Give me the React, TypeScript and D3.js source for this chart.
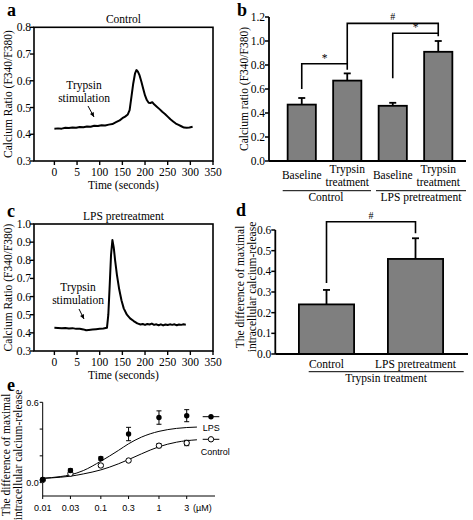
import React from 'react';
import * as d3 from 'd3';

const SERIF = '"Liberation Serif", "Times New Roman", serif';
const SANS = '"Liberation Sans", Arial, sans-serif';

// ---------- Panel a: Control trace ----------
const ctrlTime = [0, 8, 16, 24, 32, 40, 48, 56, 64, 72, 80, 88, 96, 104, 112, 120, 128, 136, 144, 150, 156, 162, 166, 170, 174, 178, 181, 184, 188, 192, 196, 200, 204, 208, 212, 216, 220, 226, 232, 238, 244, 250, 256, 262, 268, 274, 280, 286, 292, 298, 305];
const ctrlRatio = [0.421, 0.422, 0.421, 0.424, 0.423, 0.425, 0.424, 0.427, 0.426, 0.429, 0.428, 0.432, 0.431, 0.434, 0.433, 0.436, 0.438, 0.445, 0.452, 0.46, 0.466, 0.474, 0.49, 0.54, 0.59, 0.628, 0.64, 0.635, 0.62, 0.596, 0.57, 0.545, 0.528, 0.518, 0.517, 0.52, 0.512, 0.503, 0.494, 0.484, 0.476, 0.466, 0.456, 0.448, 0.44, 0.435, 0.43, 0.425, 0.424, 0.425, 0.428];

// ---------- Panel c: LPS pretreatment trace ----------
const lpsTime = [0, 8, 16, 24, 32, 40, 48, 56, 64, 70, 76, 84, 92, 100, 108, 116, 119, 122, 125, 128, 131, 134, 138, 143, 148, 153, 160, 167, 175, 183, 190, 195, 200, 205, 210, 215, 220, 225, 230, 235, 240, 245, 250, 255, 260, 265, 270, 275, 280, 285, 290];
const lpsRatio = [0.428, 0.427, 0.425, 0.427, 0.424, 0.426, 0.422, 0.423, 0.419, 0.414, 0.416, 0.418, 0.42, 0.422, 0.424, 0.428, 0.5, 0.66, 0.83, 0.912, 0.87, 0.8, 0.72, 0.64, 0.58, 0.535, 0.5, 0.48, 0.465, 0.452, 0.446, 0.449, 0.444, 0.449, 0.446, 0.451, 0.444, 0.447, 0.442, 0.447, 0.441, 0.446, 0.443, 0.447, 0.444, 0.447, 0.442, 0.446, 0.444, 0.447, 0.445];

const traceXTicks = [0, 50, 100, 150, 200, 250, 300, 350];
const traceXTickLabels = ['0', '5', '100', '150', '200', '250', '300', '350'];
const aYTicks = [0.3, 0.4, 0.5, 0.6, 0.7, 0.8];
const cYTicks = [0.3, 0.4, 0.5, 0.6, 0.7, 0.8, 0.9, 1.0];

// ---------- Panel b ----------
const bCategories = ['Control baseline', 'Control trypsin', 'LPS baseline', 'LPS trypsin'];
const bCategoryLabels = [['Baseline'], ['Trypsin', 'treatment'], ['Baseline'], ['Trypsin', 'treatment']];
const bMeans = [0.47, 0.67, 0.46, 0.91];
const bErrors = [0.055, 0.06, 0.025, 0.09];
const bGroupLabels = ['Control', 'LPS pretreatment'];
const bYTicks = [0, 0.2, 0.4, 0.6, 0.8, 1.0, 1.2];

// ---------- Panel d ----------
const dCategories = ['Control', 'LPS pretreatment'];
const dMeans = [0.24, 0.46];
const dErrors = [0.07, 0.1];
const dYTicks = [0, 0.1, 0.2, 0.3, 0.4, 0.5, 0.6];

// ---------- Panel e ----------
const eConc = [0.01, 0.03, 0.1, 0.3, 1, 3];
const eConcLabels = ['0.01', '0.03', '0.1', '0.3', '1', '3'];
const eLpsMean = [0.024, 0.091, 0.18, 0.363, 0.486, 0.5];
const eLpsErr = [0.008, 0.012, 0.012, 0.05, 0.05, 0.045];
const eCtrlMean = [0.02, 0.067, 0.128, 0.165, 0.276, 0.296];
const eCtrlErr = [0.008, 0.01, 0.01, 0.01, 0.015, 0.02];
const eFitConc = [0.01, 0.02, 0.03, 0.05, 0.1, 0.2, 0.3, 0.5, 1, 2, 4.5];
const eLpsFit = [0.032, 0.045, 0.058, 0.09, 0.16, 0.24, 0.29, 0.34, 0.383, 0.405, 0.415];
const eCtrlFit = [0.032, 0.04, 0.048, 0.065, 0.095, 0.14, 0.172, 0.215, 0.268, 0.302, 0.32];
const eYTicks = [0, 0.2, 0.4, 0.6];
const eYTickLabels = ['0.0', '', '', '0.6'];

const FS = 11.5;

function PanelLetter({ x, y, t }: { x: number; y: number; t: string }) {
  return (
    <text x={x} y={y} fontFamily={SERIF} fontWeight="bold" fontSize={18}>
      {t}
    </text>
  );
}

function RotLabel({ x, y, lines, size = FS }: { x: number; y: number; lines: string[]; size?: number }) {
  return (
    <g>
      {lines.map((l, i) => (
        <text
          key={i}
          transform={`translate(${x + i * 11.5},${y}) rotate(-90)`}
          textAnchor="middle"
          fontFamily={SERIF}
          fontSize={size}
        >
          {l}
        </text>
      ))}
    </g>
  );
}

function TracePanel({
  time, ratio, yTicks, yDomain, top, bottom, title, letterY, arrow, textPos,
}: {
  time: number[]; ratio: number[]; yTicks: number[]; yDomain: [number, number];
  top: number; bottom: number; title: string; letterY: number;
  arrow: [number, number, number, number]; textPos: [number, number];
}) {
  const left = 34, right = 213;
  const x = d3.scaleLinear().domain([-45, 350]).range([left, right]);
  const y = d3.scaleLinear().domain(yDomain).range([bottom, top]);
  const line = d3.line<number>().x((_, i) => x(time[i])).y((d) => y(d));
  const [ax1, ay1, ax2, ay2] = arrow;
  const ang = Math.atan2(ay2 - ay1, ax2 - ax1);
  const hl = 5;
  const head = `M${ax2},${ay2} L${ax2 - hl * Math.cos(ang - 0.45)},${ay2 - hl * Math.sin(ang - 0.45)} L${ax2 - hl * Math.cos(ang + 0.45)},${ay2 - hl * Math.sin(ang + 0.45)} Z`;
  return (
    <g>
      <PanelLetter x={7} y={letterY} t={title === 'Control' ? 'a' : 'c'} />
      <text x={(left + right) / 2} y={top - 4} textAnchor="middle" fontFamily={SERIF} fontSize={FS}>{title}</text>
      <rect x={left} y={top} width={right - left} height={bottom - top} fill="none" stroke="#000" strokeWidth={1.6} />
      {yTicks.map((t) => (
        <g key={t}>
          <line x1={left - 4} x2={left} y1={y(t)} y2={y(t)} stroke="#000" strokeWidth={1.4} />
          <text x={left - 3} y={y(t) + 4} textAnchor="end" fontFamily={SERIF} fontSize={FS}>{t.toFixed(1)}</text>
        </g>
      ))}
      {traceXTicks.map((t, i) => (
        <g key={t}>
          <line x1={x(t)} x2={x(t)} y1={bottom} y2={bottom + 4} stroke="#000" strokeWidth={1.4} />
          <text x={x(t)} y={bottom + 15} textAnchor="middle" fontFamily={SERIF} fontSize={FS}>{traceXTickLabels[i]}</text>
        </g>
      ))}
      <text x={(left + right) / 2} y={bottom + 28} textAnchor="middle" fontFamily={SERIF} fontSize={FS}>Time (seconds)</text>
      <RotLabel x={12} y={(top + bottom) / 2} lines={['Calcium Ratio (F340/F380)']} />
      <path d={line(ratio) || ''} fill="none" stroke="#000" strokeWidth={2} strokeLinejoin="round" />
      <text x={textPos[0]} y={textPos[1]} textAnchor="middle" fontFamily={SERIF} fontSize={FS}>Trypsin</text>
      <text x={textPos[0]} y={textPos[1] + 13} textAnchor="middle" fontFamily={SERIF} fontSize={FS}>stimulation</text>
      <line x1={ax1} y1={ay1} x2={ax2} y2={ay2} stroke="#000" strokeWidth={1} />
      <path d={head} fill="#000" />
    </g>
  );
}

function PanelB() {
  const axisX = 269, x0 = 279, x1 = 461, axisEnd = 466;
  const y = d3.scaleLinear().domain([0, 1.2]).range([161, 17]);
  const xb = d3.scaleBand<string>().domain(bCategories).range([x0, x1]).paddingInner(0.38).paddingOuter(0.19);
  const bw = xb.bandwidth();
  const cx = (i: number) => (xb(bCategories[i]) as number) + bw / 2;
  const bracket = (pts: [number, number][]) => d3.line()(pts.map(([i, v]) => [cx(i), y(v)]) as [number, number][]) || '';
  return (
    <g>
      <PanelLetter x={237} y={16} t="b" />
      {bMeans.map((m, i) => (
        <g key={i}>
          <line x1={cx(i)} x2={cx(i)} y1={y(m)} y2={y(m + bErrors[i])} stroke="#000" strokeWidth={1.8} />
          <line x1={cx(i) - 3.5} x2={cx(i) + 3.5} y1={y(m + bErrors[i])} y2={y(m + bErrors[i])} stroke="#000" strokeWidth={1.8} />
          <rect x={xb(bCategories[i])} y={y(m)} width={bw} height={y(0) - y(m)} fill="#7f7f7f" stroke="#000" strokeWidth={1.8} />
          {bCategoryLabels[i].length === 1 ? (
            <text x={cx(i)} y={179} textAnchor="middle" fontFamily={SERIF} fontSize={FS}>{bCategoryLabels[i][0]}</text>
          ) : (
            <g>
              <text x={cx(i)} y={173} textAnchor="middle" fontFamily={SERIF} fontSize={FS}>{bCategoryLabels[i][0]}</text>
              <text x={cx(i)} y={186} textAnchor="middle" fontFamily={SERIF} fontSize={FS}>{bCategoryLabels[i][1]}</text>
            </g>
          )}
        </g>
      ))}
      <line x1={axisX} x2={axisX} y1={y(1.2)} y2={y(0)} stroke="#000" strokeWidth={1.8} />
      <line x1={axisX} x2={axisEnd} y1={y(0)} y2={y(0)} stroke="#000" strokeWidth={1.8} />
      {bYTicks.map((t) => (
        <g key={t}>
          <line x1={axisX - 4} x2={axisX} y1={y(t)} y2={y(t)} stroke="#000" strokeWidth={1.5} />
          <text x={axisX - 4} y={y(t) + 4} textAnchor="end" fontFamily={SERIF} fontSize={FS}>{t.toFixed(1)}</text>
        </g>
      ))}
      {[0, 1].map((g) => (
        <g key={g}>
          <line x1={g === 0 ? 282.7 : 376} x2={g === 0 ? 371 : 466} y1={190.7} y2={190.7} stroke="#000" strokeWidth={1} />
          <text x={g === 0 ? 326 : 421} y={201} textAnchor="middle" fontFamily={SERIF} fontSize={FS}>{bGroupLabels[g]}</text>
        </g>
      ))}
      <RotLabel x={248} y={89} lines={['Calcium ratio (F340/F380)']} />
      <path d={bracket([[0, 0.6], [0, 0.81], [1, 0.81], [1, 0.76]])} fill="none" stroke="#000" strokeWidth={1.6} />
      <path d={bracket([[1, 0.81], [1, 1.147], [3, 1.147], [3, 1.04]])} fill="none" stroke="#000" strokeWidth={1.6} />
      <path d={bracket([[2, 0.69], [2, 1.064], [3, 1.064]])} fill="none" stroke="#000" strokeWidth={1.6} />
      <text x={(cx(0) + cx(1)) / 2} y={y(0.81) - 2} textAnchor="middle" fontFamily={SERIF} fontSize={FS}>*</text>
      <text x={(cx(2) + cx(3)) / 2} y={y(1.064) - 2} textAnchor="middle" fontFamily={SERIF} fontSize={FS}>*</text>
      <text x={(cx(1) + cx(3)) / 2} y={y(1.147) - 3} textAnchor="middle" fontFamily={SERIF} fontSize={10}>#</text>
    </g>
  );
}

function PanelD() {
  const axisX = 275.3, axisEnd = 468;
  const y = d3.scaleLinear().domain([0, 0.6]).range([354, 230]);
  const xb = d3.scaleBand<string>().domain(dCategories).range([282, 460]).paddingInner(0.38).paddingOuter(0.19);
  const bw = xb.bandwidth();
  const cx = (i: number) => (xb(dCategories[i]) as number) + bw / 2;
  const bracket = (pts: [number, number][]) => d3.line()(pts.map(([i, v]) => [cx(i), y(v)]) as [number, number][]) || '';
  return (
    <g>
      <PanelLetter x={236} y={216} t="d" />
      {dMeans.map((m, i) => (
        <g key={i}>
          <line x1={cx(i)} x2={cx(i)} y1={y(m)} y2={y(m + dErrors[i])} stroke="#000" strokeWidth={1.8} />
          <line x1={cx(i) - 3.5} x2={cx(i) + 3.5} y1={y(m + dErrors[i])} y2={y(m + dErrors[i])} stroke="#000" strokeWidth={1.8} />
          <rect x={xb(dCategories[i])} y={y(m)} width={bw} height={y(0) - y(m)} fill="#7f7f7f" stroke="#000" strokeWidth={1.8} />
          <text x={cx(i)} y={368} textAnchor="middle" fontFamily={SERIF} fontSize={FS}>{dCategories[i]}</text>
        </g>
      ))}
      <line x1={axisX} x2={axisX} y1={y(0.6)} y2={y(0)} stroke="#000" strokeWidth={1.8} />
      <line x1={axisX} x2={axisEnd} y1={y(0)} y2={y(0)} stroke="#000" strokeWidth={1.8} />
      {dYTicks.map((t) => (
        <g key={t}>
          <line x1={axisX - 4} x2={axisX} y1={y(t)} y2={y(t)} stroke="#000" strokeWidth={1.5} />
          <text x={axisX - 4} y={y(t) + 4} textAnchor="end" fontFamily={SERIF} fontSize={FS}>{t.toFixed(1)}</text>
        </g>
      ))}
      <line x1={308.7} x2={463.7} y1={371.7} y2={371.7} stroke="#000" strokeWidth={1} />
      <text x={386} y={382} textAnchor="middle" fontFamily={SERIF} fontSize={FS}>Trypsin treatment</text>
      <RotLabel x={244} y={287} lines={['The difference of maximal', 'intracellular calcium-release']} />
      <path d={bracket([[0, 0.343], [0, 0.64], [1, 0.64], [1, 0.584]])} fill="none" stroke="#000" strokeWidth={1.6} />
      <text x={(cx(0) + cx(1)) / 2} y={y(0.64) - 3} textAnchor="middle" fontFamily={SERIF} fontSize={10}>#</text>
    </g>
  );
}

function PanelE() {
  const axisX = 42.7, axisY = 496;
  const x = d3.scaleLog().domain([0.01, 9.2]).range([42.7, 215]);
  const y = d3.scaleLinear().domain([-0.1, 0.6]).range([496, 402.3]);
  const fit = d3.line<number>().x((_, i) => x(eFitConc[i])).y((d) => y(d)).curve(d3.curveMonotoneX);
  const errBars = (means: number[], errs: number[]) =>
    means.map((m, i) => (
      <g key={i}>
        <line x1={x(eConc[i])} x2={x(eConc[i])} y1={y(m - errs[i])} y2={y(m + errs[i])} stroke="#000" strokeWidth={1} />
        <line x1={x(eConc[i]) - 2.5} x2={x(eConc[i]) + 2.5} y1={y(m - errs[i])} y2={y(m - errs[i])} stroke="#000" strokeWidth={1} />
        <line x1={x(eConc[i]) - 2.5} x2={x(eConc[i]) + 2.5} y1={y(m + errs[i])} y2={y(m + errs[i])} stroke="#000" strokeWidth={1} />
      </g>
    ));
  return (
    <g>
      <PanelLetter x={7} y={391} t="e" />
      <line x1={axisX} x2={axisX} y1={y(0.6)} y2={axisY} stroke="#000" strokeWidth={1} />
      <line x1={axisX} x2={215} y1={axisY} y2={axisY} stroke="#000" strokeWidth={1} />
      {eYTicks.map((t, i) => (
        <g key={t}>
          <line x1={axisX - 3} x2={axisX} y1={y(t)} y2={y(t)} stroke="#000" strokeWidth={1} />
          {eYTickLabels[i] && (
            <text x={axisX - 4} y={y(t) + 3.5} textAnchor="end" fontFamily={SANS} fontSize={9}>{eYTickLabels[i]}</text>
          )}
        </g>
      ))}
      {eConc.map((c, i) => (
        <g key={c}>
          <line x1={x(c)} x2={x(c)} y1={axisY} y2={axisY + 3} stroke="#000" strokeWidth={1} />
          <text x={x(c)} y={axisY + 15} textAnchor="middle" fontFamily={SANS} fontSize={9}>{eConcLabels[i]}</text>
        </g>
      ))}
      <text x={193} y={axisY + 15} textAnchor="start" fontFamily={SANS} fontSize={9}>(µM)</text>
      <RotLabel x={10} y={455} lines={['The difference of maximal', 'intracellular calcium-release']} />
      <path d={fit(eLpsFit) || ''} fill="none" stroke="#000" strokeWidth={1} />
      <path d={fit(eCtrlFit) || ''} fill="none" stroke="#000" strokeWidth={1} />
      {errBars(eLpsMean, eLpsErr)}
      {errBars(eCtrlMean, eCtrlErr)}
      {eCtrlMean.map((m, i) => (
        <circle key={'c' + i} cx={x(eConc[i])} cy={y(m)} r={2.7} fill="#fff" stroke="#000" strokeWidth={1} />
      ))}
      {eLpsMean.map((m, i) => (
        <circle key={'l' + i} cx={x(eConc[i])} cy={y(m)} r={2.7} fill="#000" />
      ))}
      <line x1={202.7} x2={219.3} y1={416.7} y2={416.7} stroke="#000" strokeWidth={1} />
      <circle cx={211} cy={416.7} r={2.7} fill="#000" />
      <text x={202.7} y={430.5} fontFamily={SANS} fontSize={9}>LPS</text>
      <line x1={202.7} x2={219.3} y1={439.3} y2={439.3} stroke="#000" strokeWidth={1} />
      <circle cx={211} cy={439.3} r={2.7} fill="#fff" stroke="#000" strokeWidth={1} />
      <text x={200.7} y={455} fontFamily={SANS} fontSize={9}>Control</text>
    </g>
  );
}

export default function App() {
  return (
    <svg width={473} height={520} style={{ position: 'absolute', left: 0, top: 0, background: '#fff' }}>
      <rect width={473} height={520} fill="#fff" />
      <TracePanel
        time={ctrlTime} ratio={ctrlRatio} yTicks={aYTicks} yDomain={[0.3, 0.8]}
        top={27.3} bottom={161} title="Control" letterY={16}
        arrow={[88, 106, 94, 117]} textPos={[84, 89]}
      />
      <TracePanel
        time={lpsTime} ratio={lpsRatio} yTicks={cYTicks} yDomain={[0.3, 1.0]}
        top={224} bottom={351} title="LPS pretreatment" letterY={217}
        arrow={[79, 309, 84, 319]} textPos={[78, 291]}
      />
      <PanelB />
      <PanelD />
      <PanelE />
    </svg>
  );
}
